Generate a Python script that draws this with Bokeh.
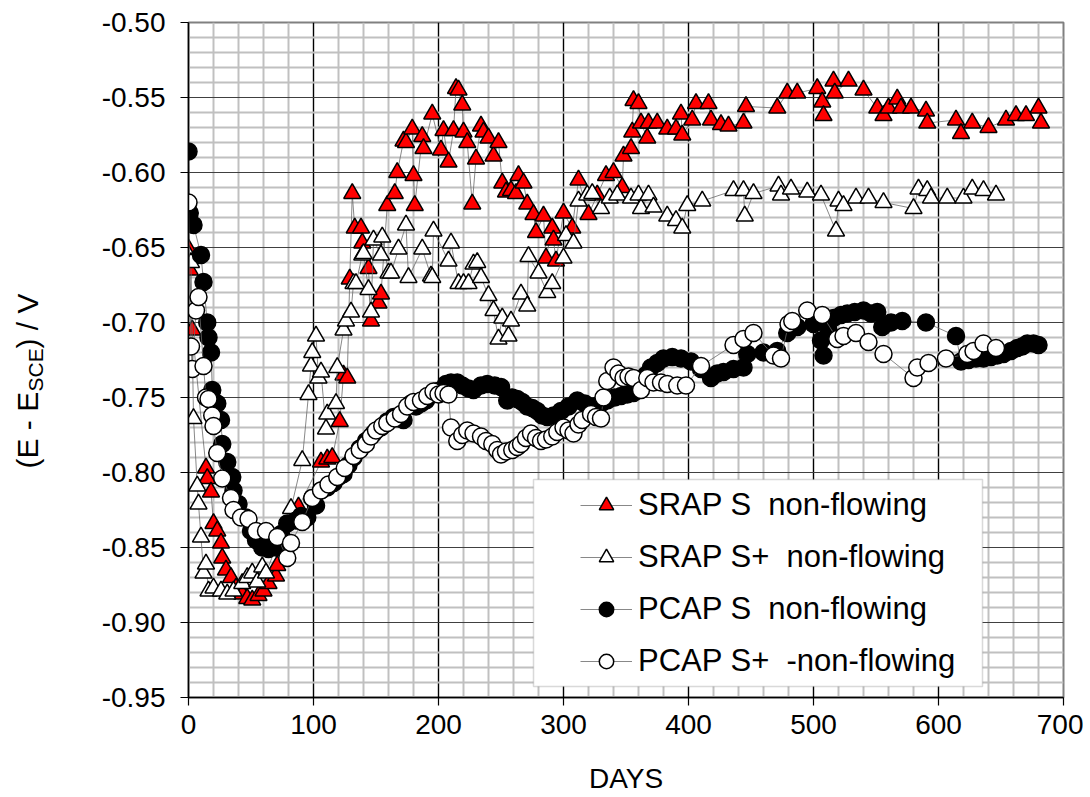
import math
from bokeh.plotting import figure
from bokeh.layouts import row
from bokeh.core.properties import value
from bokeh.models import (Range1d, FixedTicker, PrintfTickFormatter, Legend, LegendItem,
                          BoxAnnotation)
from bokeh.embed import file_html
from bokeh.resources import INLINE

FONT = "Liberation Sans"

# ---------------- data ----------------
srap_s_days = [0, 1, 3, 14, 15, 18, 20, 23, 26, 27, 30, 34, 38, 43, 47, 51, 56, 60, 64, 70, 71, 88,
               106, 111, 115, 121, 124, 127, 129, 131, 133, 138, 139, 144, 146, 152, 154, 159, 165, 167,
               172, 174, 179, 180, 181, 187, 188, 195, 202, 204, 208, 212, 214, 216, 219, 220, 223, 227,
               230, 234, 236, 240, 244, 248, 251, 254, 258, 262, 264, 268, 271, 276, 278, 284, 286, 291,
               292, 294, 300, 307, 312, 320, 327, 334, 340, 347, 348, 354, 355, 356, 360, 362, 367, 368,
               375, 383, 390, 394, 395, 403, 406, 416, 418, 426, 432, 444, 446, 471, 479, 487, 503, 507,
               508, 516, 517, 528, 540, 551, 556, 560, 567, 570, 578, 590, 591, 614, 618, 627, 640, 654,
               662, 670, 680, 682]
srap_s_e = [-0.651, -0.665, -0.705, -0.797, -0.804, -0.813, -0.834, -0.839, -0.847, -0.857, -0.865,
            -0.870, -0.877, -0.881, -0.884, -0.885, -0.882, -0.879, -0.874, -0.869, -0.862, -0.823,
            -0.793, -0.791, -0.790, -0.766, -0.735, -0.737, -0.671, -0.614, -0.637, -0.637, -0.647,
            -0.664, -0.699, -0.687, -0.681, -0.622, -0.614, -0.600, -0.579, -0.580, -0.571, -0.602,
            -0.622, -0.576, -0.584, -0.561, -0.585, -0.572, -0.593, -0.572, -0.544, -0.545, -0.555,
            -0.573, -0.580, -0.621, -0.591, -0.569, -0.573, -0.577, -0.589, -0.580, -0.607, -0.613,
            -0.612, -0.614, -0.602, -0.607, -0.621, -0.628, -0.640, -0.629, -0.657, -0.637, -0.645,
            -0.659, -0.627, -0.637, -0.605, -0.628, -0.615, -0.602, -0.600, -0.610, -0.589, -0.584,
            -0.573, -0.552, -0.554, -0.567, -0.577, -0.567, -0.567, -0.571, -0.571, -0.561, -0.575,
            -0.565, -0.554, -0.554, -0.565, -0.568, -0.569, -0.567, -0.556, -0.557, -0.547, -0.547,
            -0.544, -0.553, -0.562, -0.539, -0.547, -0.539, -0.545, -0.557, -0.562, -0.557, -0.551,
            -0.557, -0.557, -0.559, -0.567, -0.565, -0.574, -0.567, -0.570, -0.565, -0.562, -0.562,
            -0.557, -0.567]

srap_sp_days = [0, 2, 4, 7, 8, 10, 12, 14, 16, 20, 26, 31, 36, 43, 47, 51, 55, 59, 62, 82, 91, 96, 98,
                99, 102, 104, 106, 110, 111, 118, 119, 124, 126, 130, 132, 134, 139, 140, 144, 146, 148,
                154, 155, 160, 162, 168, 174, 176, 187, 194, 195, 196, 208, 210, 216, 220, 224, 228, 231,
                234, 240, 244, 248, 251, 256, 258, 266, 271, 272, 280, 287, 291, 300, 302, 308, 312, 319,
                323, 330, 337, 343, 354, 360, 362, 368, 372, 383, 390, 395, 399, 411, 436, 444, 445, 452,
                472, 474, 482, 495, 506, 518, 520, 524, 534, 544, 556, 580, 584, 591, 594, 607, 620, 627,
                636, 646]
srap_sp_e = [-0.655, -0.660, -0.764, -0.809, -0.821, -0.843, -0.867, -0.861, -0.879, -0.877, -0.879,
             -0.881, -0.879, -0.874, -0.870, -0.867, -0.873, -0.863, -0.867, -0.824, -0.792, -0.748,
             -0.729, -0.720, -0.709, -0.737, -0.733, -0.771, -0.761, -0.754, -0.730, -0.705, -0.699,
             -0.693, -0.674, -0.674, -0.655, -0.654, -0.678, -0.693, -0.645, -0.655, -0.643, -0.667,
             -0.667, -0.651, -0.635, -0.670, -0.651, -0.669, -0.670, -0.639, -0.659, -0.647, -0.674,
             -0.674, -0.674, -0.661, -0.660, -0.670, -0.682, -0.692, -0.711, -0.697, -0.709, -0.699,
             -0.681, -0.689, -0.656, -0.667, -0.680, -0.674, -0.657, -0.642, -0.647, -0.619, -0.615,
             -0.614, -0.624, -0.617, -0.615, -0.617, -0.615, -0.624, -0.615, -0.623, -0.629, -0.632,
             -0.637, -0.622, -0.619, -0.612, -0.612, -0.629, -0.614, -0.609, -0.615, -0.611, -0.613,
             -0.615, -0.639, -0.619, -0.622, -0.617, -0.617, -0.620, -0.624, -0.611, -0.612, -0.617,
             -0.617, -0.617, -0.611, -0.612, -0.615]

pcap_s_days = [0, 1, 4, 10, 12, 15, 16, 18, 19, 23, 26, 27, 31, 35, 36, 40, 46, 50, 54, 59, 64, 70, 74,
               79, 86, 90, 95, 99, 102, 106, 111, 116, 120, 124, 128, 132, 137, 142, 148, 154, 159, 164,
               168, 172, 178, 182, 186, 190, 195, 198, 202, 206, 210, 215, 219, 224, 228, 234, 239, 245,
               250, 255, 259, 263, 267, 271, 275, 279, 283, 287, 292, 298, 304, 311, 317, 324, 330, 335,
               341, 346, 351, 356, 362, 366, 370, 375, 380, 387, 394, 402, 410, 418, 423, 428, 436, 444,
               447, 460, 471, 479, 487, 500, 506, 508, 512, 516, 522, 527, 533, 540, 546, 551, 555, 562,
               571, 590, 614, 618, 624, 630, 636, 642, 647, 652, 658, 663, 667, 671, 676, 680]
pcap_s_e = [-0.586, -0.627, -0.635, -0.655, -0.673, -0.700, -0.710, -0.720, -0.745, -0.754, -0.765,
            -0.781, -0.793, -0.803, -0.812, -0.821, -0.830, -0.839, -0.845, -0.850, -0.851, -0.850,
            -0.841, -0.834, -0.832, -0.829, -0.830, -0.817, -0.822, -0.812, -0.810, -0.807, -0.803,
            -0.801, -0.795, -0.790, -0.784, -0.779, -0.774, -0.770, -0.766, -0.763, -0.764, -0.765,
            -0.754, -0.756, -0.754, -0.752, -0.748, -0.746, -0.745, -0.741, -0.740, -0.740, -0.742,
            -0.744, -0.745, -0.742, -0.741, -0.742, -0.743, -0.752, -0.750, -0.751, -0.753, -0.756,
            -0.757, -0.759, -0.762, -0.763, -0.762, -0.759, -0.756, -0.752, -0.754, -0.756, -0.754,
            -0.752, -0.750, -0.749, -0.748, -0.747, -0.741, -0.735, -0.730, -0.727, -0.724, -0.723,
            -0.724, -0.726, -0.731, -0.737, -0.734, -0.733, -0.731, -0.730, -0.721, -0.720, -0.719,
            -0.707, -0.703, -0.701, -0.712, -0.722, -0.705, -0.697, -0.695, -0.694, -0.693, -0.692,
            -0.694, -0.693, -0.703, -0.700, -0.699, -0.700, -0.709, -0.726, -0.725, -0.724, -0.724,
            -0.723, -0.722, -0.721, -0.719, -0.717, -0.716, -0.714, -0.714, -0.715]

pcap_sp_days = [0, 2, 3, 6, 8, 12, 14, 16, 19, 20, 23, 27, 34, 36, 42, 48, 54, 62, 71, 79, 82, 91, 99,
                106, 112, 119, 125, 132, 137, 142, 146, 150, 155, 159, 165, 170, 175, 180, 186, 191, 196,
                200, 204, 208, 210, 215, 219, 223, 228, 234, 238, 243, 247, 250, 254, 259, 263, 266, 270,
                274, 278, 282, 286, 291, 295, 300, 304, 308, 312, 315, 322, 326, 330, 332, 335, 340, 344,
                348, 352, 356, 362, 367, 372, 378, 383, 391, 398, 410, 436, 444, 452, 468, 474, 480, 483,
                495, 507, 519, 524, 534, 544, 556, 580, 583, 592, 606, 623, 628, 636, 646]
pcap_sp_e = [-0.620, -0.716, -0.731, -0.692, -0.683, -0.729, -0.750, -0.751, -0.762, -0.769, -0.787,
             -0.804, -0.817, -0.825, -0.830, -0.831, -0.839, -0.839, -0.843, -0.857, -0.847, -0.833,
             -0.817, -0.812, -0.808, -0.803, -0.797, -0.789, -0.785, -0.781, -0.776, -0.772, -0.769,
             -0.767, -0.764, -0.761, -0.756, -0.753, -0.752, -0.749, -0.746, -0.748, -0.747, -0.748,
             -0.770, -0.779, -0.775, -0.772, -0.774, -0.776, -0.779, -0.781, -0.785, -0.788, -0.786,
             -0.785, -0.783, -0.781, -0.777, -0.774, -0.777, -0.779, -0.778, -0.776, -0.773, -0.770,
             -0.772, -0.774, -0.768, -0.765, -0.761, -0.763, -0.764, -0.750, -0.739, -0.730, -0.734,
             -0.737, -0.736, -0.737, -0.745, -0.737, -0.740, -0.740, -0.741, -0.742, -0.742, -0.729,
             -0.715, -0.711, -0.707, -0.722, -0.724, -0.701, -0.699, -0.692, -0.695, -0.711, -0.709,
             -0.707, -0.713, -0.721, -0.737, -0.730, -0.727, -0.724, -0.721, -0.719, -0.714, -0.717]

legend_labels = ["SRAP S  non-flowing", "SRAP S+  non-flowing",
                 "PCAP S  non-flowing", "PCAP S+  -non-flowing"]

x_ticks = [0, 100, 200, 300, 400, 500, 600, 700]
y_ticks = [-0.95, -0.90, -0.85, -0.80, -0.75, -0.70, -0.65, -0.60, -0.55, -0.50]

y_title_main = ["(E - E", ") / V"]
y_title_sub = ["SCE"]

TITLE_W = 60      # width of the narrow panel that holds the y title
PAGE_H = 790

# ---------------- narrow panel for the y-axis title (subscripted) ----------------
t = figure(frame_width=TITLE_W, frame_height=PAGE_H,
           x_range=Range1d(0, TITLE_W), y_range=Range1d(PAGE_H, 0),
           output_backend="svg", toolbar_location=None,
           min_border_left=0, min_border_right=0, min_border_top=0, min_border_bottom=0)
t.axis.visible = False
t.grid.visible = False
t.outline_line_color = None
t.background_fill_color = "white"
t.border_fill_color = "white"
t.text(x=[27, 27], y=[446, 326], text=y_title_main, angle=math.pi / 2,
       text_font=value(FONT), text_font_size=value("30px"), text_color="black",
       text_baseline="alphabetic", text_align="left")
t.text(x=[35], y=[369], text=y_title_sub, angle=math.pi / 2,
       text_font=value(FONT), text_font_size=value("21px"), text_color="black",
       text_baseline="alphabetic", text_align="left")

# ---------------- main figure ----------------
p = figure(frame_width=875, frame_height=675,
           x_range=Range1d(0, 700), y_range=Range1d(-0.95, -0.50),
           output_backend="svg", toolbar_location=None,
           min_border_left=188 - TITLE_W, min_border_top=22, min_border_right=20,
           min_border_bottom=60)
p.background_fill_color = "white"
p.border_fill_color = "white"
p.outline_line_color = "#808080"
p.outline_line_width = 2

x_minor = [v for v in range(0, 701, 20) if v % 100 != 0]
y_minor = [round(-0.95 + 0.01 * k, 2) for k in range(46) if k % 5 != 0]

p.xaxis.ticker = FixedTicker(ticks=x_ticks, minor_ticks=x_minor)
p.yaxis.ticker = FixedTicker(ticks=y_ticks, minor_ticks=y_minor)
p.yaxis.formatter = PrintfTickFormatter(format="%.2f")

for ax in (p.xaxis[0], p.yaxis[0]):
    ax.major_label_text_font = FONT
    ax.major_label_text_font_size = "28px"
    ax.major_label_text_color = "black"
    ax.axis_line_color = "black"
    ax.axis_line_width = 1.5
    ax.major_tick_line_color = "black"
    ax.major_tick_line_width = 1.2
    ax.major_tick_in = 0
    ax.major_tick_out = 8
    ax.minor_tick_line_color = None

p.xaxis.major_label_standoff = 9
p.yaxis.major_label_standoff = 15
p.xaxis.axis_label = "DAYS"
p.xaxis.axis_label_text_font = FONT
p.xaxis.axis_label_text_font_size = "28px"
p.xaxis.axis_label_text_font_style = "normal"
p.xaxis.axis_label_text_color = "black"
p.xaxis.axis_label_standoff = 26

p.xgrid.grid_line_color = "black"
p.xgrid.grid_line_width = 1.4
p.xgrid.minor_grid_line_color = "#c0c0c0"
p.xgrid.minor_grid_line_width = 2
p.ygrid.grid_line_color = "#404040"
p.ygrid.grid_line_width = 1
p.ygrid.minor_grid_line_color = "#c0c0c0"
p.ygrid.minor_grid_line_width = 2

LINE_C = "#6a6a6a"
LW = 0.8
MS = 17

r1l = p.line(srap_s_days, srap_s_e, line_color=LINE_C, line_width=LW)
r1m = p.scatter(srap_s_days, srap_s_e, marker="triangle", size=MS,
                fill_color="#ff0000", line_color="black", line_width=1.5)
r2l = p.line(srap_sp_days, srap_sp_e, line_color=LINE_C, line_width=LW)
r2m = p.scatter(srap_sp_days, srap_sp_e, marker="triangle", size=MS,
                fill_color="white", line_color="black", line_width=1.5)
r3l = p.line(pcap_s_days, pcap_s_e, line_color=LINE_C, line_width=LW)
r3m = p.scatter(pcap_s_days, pcap_s_e, marker="circle", size=MS,
                fill_color="black", line_color="black", line_width=1.5)
r4l = p.line(pcap_sp_days, pcap_sp_e, line_color=LINE_C, line_width=LW)
r4m = p.scatter(pcap_sp_days, pcap_sp_e, marker="circle", size=MS,
                fill_color="white", line_color="black", line_width=1.5)

# legend frame
box = BoxAnnotation(left=345, right=794, bottom=11, top=218,
                    left_units="screen", right_units="screen",
                    bottom_units="screen", top_units="screen",
                    fill_color="white", fill_alpha=1.0,
                    line_color="#808080", line_width=1.5)
p.add_layout(box)

legend = Legend(items=[LegendItem(label=legend_labels[0], renderers=[r1l, r1m]),
                       LegendItem(label=legend_labels[1], renderers=[r2l, r2m]),
                       LegendItem(label=legend_labels[2], renderers=[r3l, r3m]),
                       LegendItem(label=legend_labels[3], renderers=[r4l, r4m])],
                location=(392, 18), orientation="vertical",
                label_text_font=FONT, label_text_font_size="31px", label_text_color="black",
                glyph_width=52, glyph_height=36, label_height=36, label_standoff=6,
                spacing=16, padding=0, margin=0,
                border_line_color=None, background_fill_alpha=0.0)
p.add_layout(legend)

layout = row(t, p, spacing=0)
open("out.html", "w").write(file_html(layout, INLINE))
